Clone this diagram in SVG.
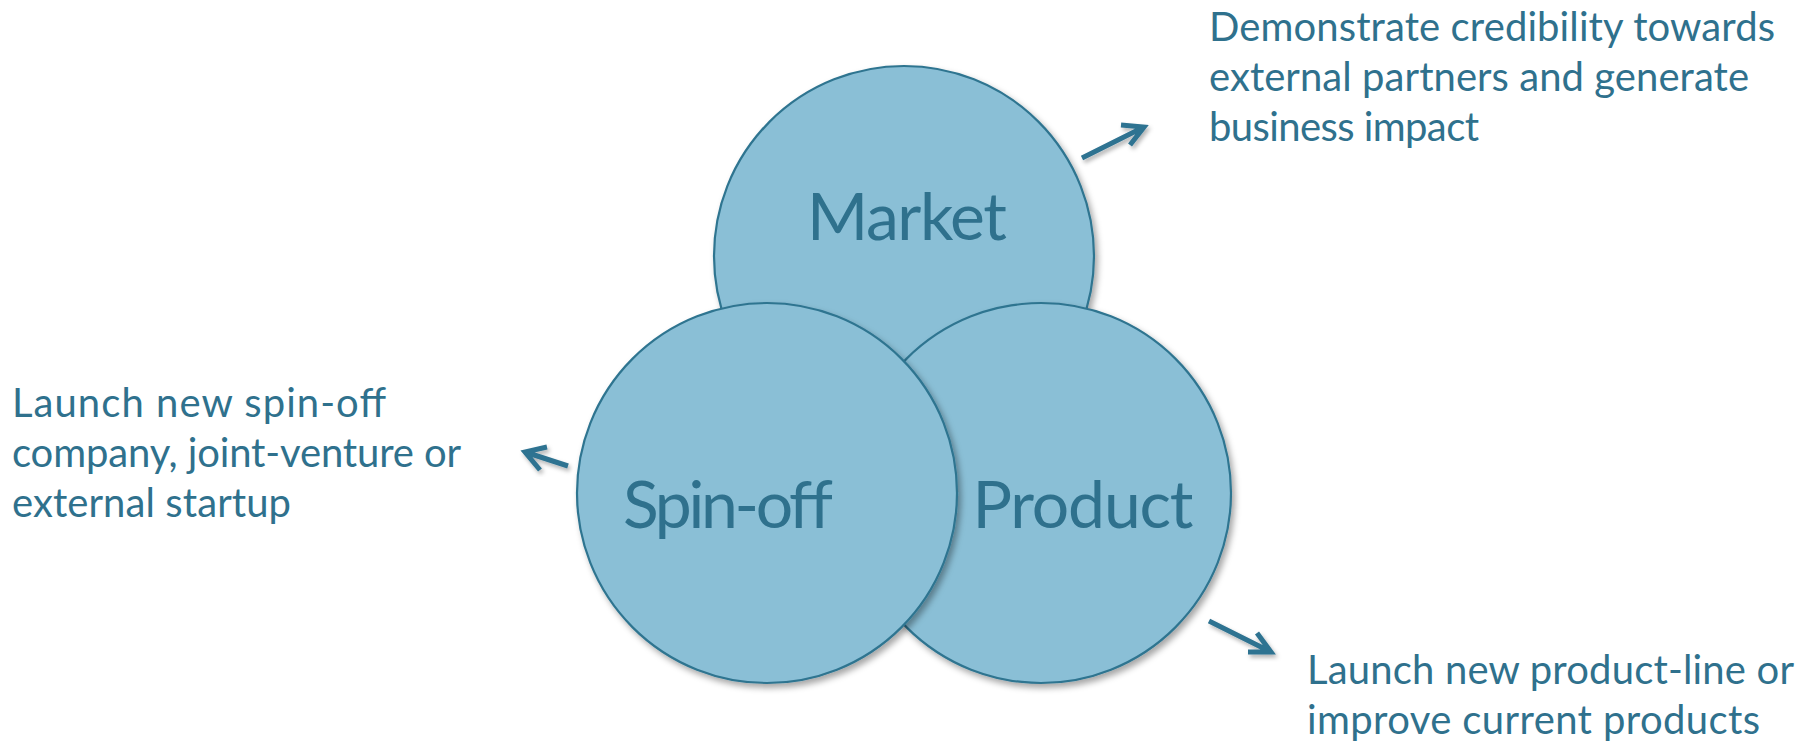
<svg xmlns="http://www.w3.org/2000/svg" width="1808" height="749" viewBox="0 0 1808 749">
<style>
.circle{fill:#8ABFD6;stroke:#2F7490;stroke-width:2.2;filter:url(#sh)}
.lbl{font-family:Lato,"Open Sans","Liberation Sans",sans-serif;font-size:66px;fill:#2F718D}
.txt{font-family:Lato,"Open Sans","Liberation Sans",sans-serif;font-size:40px;fill:#2F718D}
.conn{fill:none;stroke:#2F7391;stroke-width:5;stroke-linecap:butt;filter:url(#sh2)}
</style>
<defs>
<filter id="sh" x="-20%" y="-20%" width="140%" height="140%">
<feDropShadow dx="3" dy="4" stdDeviation="3" flood-color="#000" flood-opacity="0.35"/>
</filter>
<filter id="sh2" x="-30%" y="-30%" width="160%" height="160%">
<feDropShadow dx="2" dy="3" stdDeviation="2" flood-color="#000" flood-opacity="0.3"/>
</filter>
</defs>
<g id="market">
<circle class="circle" cx="904" cy="256" r="190"/>
<text class="lbl" x="907" y="240" text-anchor="middle" textLength="200">Market</text>
</g>
<g id="product">
<circle class="circle" cx="1041" cy="493" r="190"/>
<text class="lbl" x="1083" y="528" text-anchor="middle" textLength="221">Product</text>
</g>
<g id="spinoff">
<circle class="circle" cx="767" cy="493" r="190"/>
<text class="lbl" x="728" y="528" text-anchor="middle" textLength="210">Spin-off</text>
</g>
<g id="connectors">
<path class="conn" d="M1082,158 L1144,127 M1121,125 L1144,127 L1130,145"/>
<path class="conn" d="M568,466 L525,452 M547,447 L525,452 L540,470"/>
<path class="conn" d="M1209,621 L1271,652 M1257,633 L1271,652 L1248,652"/>
</g>
<g id="text-market">
<text class="txt" x="1209" y="41" textLength="566">Demonstrate credibility towards</text>
<text class="txt" x="1209" y="91" textLength="540">external partners and generate</text>
<text class="txt" x="1209" y="141" textLength="270">business impact</text>
</g>
<g id="text-spinoff">
<text class="txt" x="12" y="417" textLength="374">Launch new spin-off</text>
<text class="txt" x="12" y="467" textLength="449">company, joint-venture or</text>
<text class="txt" x="12" y="517" textLength="279">external startup</text>
</g>
<g id="text-product">
<text class="txt" x="1307" y="684" textLength="487">Launch new product-line or</text>
<text class="txt" x="1307" y="734" textLength="453">improve current products</text>
</g>
</svg>
